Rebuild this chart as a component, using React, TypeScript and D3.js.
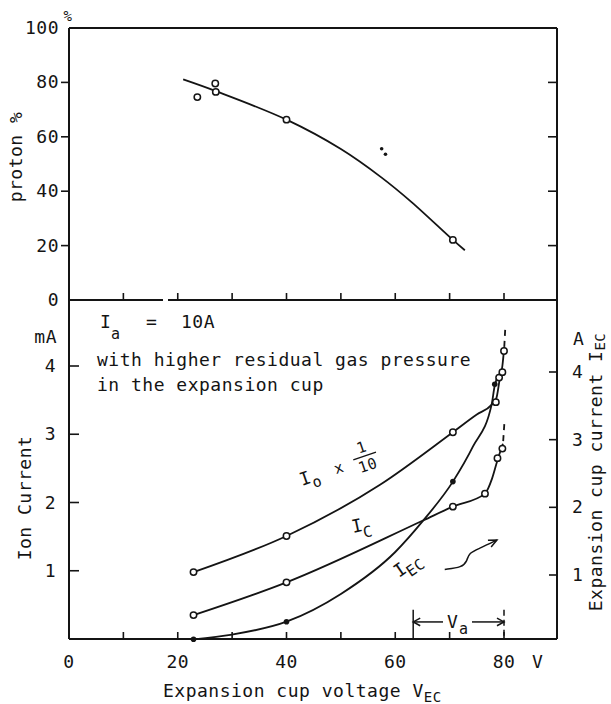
import React from 'react'
import * as d3 from 'd3'

const W = 611
const H = 704
const FONT = '"DejaVu Sans Mono", "Liberation Mono", monospace'
const INK = '#141414'

// axis ticks
const voltTicks = [10, 20, 30, 40, 50, 60, 70, 80]
const voltLabels = [0, 20, 40, 60, 80]
const protonTicks = [20, 40, 60, 80]
const protonLabels = [0, 20, 40, 60, 80, 100]
const ionTicks = [1, 2, 3, 4]
const ecTicks = [1, 2, 3, 4]

// top panel: proton % vs V_EC
const protonCurve = [[21, 81.1], [27, 76.8], [40, 66.3], [50, 55.5], [57.5, 45], [63, 36], [70.6, 22.1], [72.8, 18.3]]
const protonOpen = [[23.6, 74.6], [26.9, 79.6], [27.0, 76.5], [40, 66.3], [70.6, 22.1]]
const protonDots = [[57.5, 55.6], [58.2, 53.6]]

// bottom panel: I_o x 1/10 (mA)
const ioCurve = [[22.9, 0.98], [40, 1.51], [57.2, 2.26], [70.6, 3.03], [75, 3.29], [77.7, 3.43], [78.6, 3.53], [79.2, 3.8], [79.7, 4.0], [80.05, 4.28]]
const ioDash = [[80.05, 4.28], [80.25, 4.58]]
const ioPts = [[22.9, 0.98], [40, 1.51], [70.6, 3.03], [78.5, 3.47], [79.1, 3.83], [79.7, 3.91], [80.0, 4.22]]

// I_C (mA)
const icCurve = [[22.9, 0.35], [40, 0.83], [65.2, 1.74], [70.6, 1.94], [76.5, 2.13], [77.8, 2.35], [78.8, 2.62], [79.8, 2.86]]
const icDash = [[79.85, 2.9], [80.1, 3.2]]
const icPts = [[22.9, 0.35], [40, 0.83], [70.6, 1.94], [76.5, 2.13], [78.8, 2.65], [79.7, 2.79]]

// I_EC (A, right axis)
const iecCurve = [[22.9, 0.05], [30, 0.12], [40, 0.31], [50, 0.72], [60, 1.34], [65.2, 1.81], [70.6, 2.38], [74.3, 2.9], [77.7, 3.51], [78.3, 3.8], [79.1, 3.97]]
const iecPts = [[22.9, 0.05], [40, 0.31], [70.6, 2.38], [78.3, 3.82]]

// annotation arrow next to I_EC label (V, mA)
const iecArrow = [[69.1, 1.02], [72.3, 1.05], [73.2, 1.14], [73.5, 1.26], [75.6, 1.33], [78.7, 1.45]]
// V_a span (V) and its height (mA)
const vaSpan = [63.3, 80]
const vaLevel = 0.25
const vaTop = 0.43

function head(tx: number, ty: number, fx: number, fy: number, len = 9, ang = 0.42) {
  const a = Math.atan2(ty - fy, tx - fx)
  return `M${tx - len * Math.cos(a - ang)},${ty - len * Math.sin(a - ang)}L${tx},${ty}L${tx - len * Math.cos(a + ang)},${ty - len * Math.sin(a + ang)}`
}

export default function App() {
  const x = d3.scaleLinear().domain([0, 80]).range([69, 504])
  const yP = d3.scaleLinear().domain([0, 100]).range([300, 28])
  const yI = d3.scaleLinear().domain([0, 4]).range([639, 366])
  const yA = d3.scaleLinear().domain([1, 4]).range([575, 372])

  const L = x(0)
  const R = 557
  const T = yP(100)
  const M = yP(0)
  const B = yI(0)

  const smooth = d3.curveMonotoneX
  const lineP = d3.line<number[]>().x(d => x(d[0])).y(d => yP(d[1])).curve(d3.curveCatmullRom.alpha(0.5))
  const lineI = d3.line<number[]>().x(d => x(d[0])).y(d => yI(d[1])).curve(smooth)
  const lineA = d3.line<number[]>().x(d => x(d[0])).y(d => yA(d[1])).curve(smooth)
  const straightI = d3.line<number[]>().x(d => x(d[0])).y(d => yI(d[1]))

  const txt = { fontFamily: FONT, fontSize: 18, fill: INK, letterSpacing: 0.5 } as const
  const sub = { fontSize: 14 }

  const open = (pts: number[][], fy: (v: number) => number, key: string) =>
    pts.map((d, i) => (
      <circle key={key + i} cx={x(d[0])} cy={fy(d[1])} r={3.2} fill="#fff" stroke={INK} strokeWidth={1.5} />
    ))

  const aEnd = iecArrow[iecArrow.length - 1]
  const aPrev = iecArrow[iecArrow.length - 2]
  const vaY = yI(vaLevel)

  return (
    <svg width={W} height={H} style={{ position: 'absolute', left: 0, top: 0, background: '#fff' }}>
      {/* frame */}
      <g stroke={INK} strokeWidth={2} fill="none">
        <line x1={L} y1={T} x2={R} y2={T} />
        <line x1={L} y1={T} x2={L} y2={B} />
        <line x1={R} y1={T} x2={R} y2={B} />
        <line x1={L} y1={B} x2={R} y2={B} />
        <line x1={L} y1={M} x2={163} y2={M} />
        <line x1={168} y1={M} x2={R} y2={M} />
      </g>

      {/* ticks */}
      <g stroke={INK} strokeWidth={1.6}>
        {voltTicks.map(v => (
          <g key={'vt' + v}>
            <line x1={x(v)} x2={x(v)} y1={M} y2={M - 7} />
            <line x1={x(v)} x2={x(v)} y1={B} y2={B - 7} />
          </g>
        ))}
        {protonTicks.map(v => (
          <g key={'pt' + v}>
            <line x1={L - 8} x2={L} y1={yP(v)} y2={yP(v)} />
            <line x1={R - 9} x2={R} y1={yP(v)} y2={yP(v)} />
          </g>
        ))}
        {ionTicks.map(v => (
          <line key={'it' + v} x1={L} x2={L + 10} y1={yI(v)} y2={yI(v)} />
        ))}
        {ecTicks.map(v => (
          <line key={'et' + v} x1={R - 8} x2={R} y1={yA(v)} y2={yA(v)} />
        ))}
      </g>

      {/* tick labels */}
      <g {...txt}>
        {protonLabels.map(v => (
          <text key={'pl' + v} x={59} y={yP(v) + 6} textAnchor="end">{v}</text>
        ))}
        <text x={68} y={21} textAnchor="middle" fontSize={14}>%</text>
        {ionTicks.map(v => (
          <text key={'il' + v} x={56} y={yI(v) + 6} textAnchor="end">{v}</text>
        ))}
        <text x={57} y={343} textAnchor="end">mA</text>
        {ecTicks.map(v => (
          <text key={'el' + v} x={572} y={yA(v) + 6}>{v}</text>
        ))}
        <text x={573} y={345}>A</text>
        {voltLabels.map(v => (
          <text key={'xl' + v} x={x(v)} y={668} textAnchor="middle">{v}</text>
        ))}
        <text x={532} y={668}>V</text>
      </g>

      {/* axis titles */}
      <g {...txt}>
        <text transform="translate(22,157) rotate(-90)" textAnchor="middle">proton %</text>
        <text transform="translate(31,498) rotate(-90)" textAnchor="middle">Ion Current</text>
        <text transform="translate(602,472) rotate(-90)" textAnchor="middle">
          Expansion cup current I<tspan {...sub} dy={3}>EC</tspan>
        </text>
        <text x={163} y={697}>
          Expansion cup voltage V<tspan {...sub} dy={5}>EC</tspan>
        </text>
      </g>

      {/* top panel */}
      <path d={lineP(protonCurve) || ''} fill="none" stroke={INK} strokeWidth={1.8} />
      {open(protonOpen, yP, 'po')}
      {protonDots.map((d, i) => (
        <circle key={'pd' + i} cx={x(d[0])} cy={yP(d[1])} r={1.8} fill={INK} />
      ))}

      {/* bottom panel curves */}
      <g fill="none" stroke={INK} strokeWidth={1.8}>
        <path d={lineI(ioCurve) || ''} />
        <path d={lineI(icCurve) || ''} />
        <path d={lineA(iecCurve) || ''} />
        <path d={straightI(ioDash) || ''} strokeDasharray="6 5" />
        <path d={straightI(icDash) || ''} strokeDasharray="6 5" />
      </g>
      {open(ioPts, yI, 'io')}
      {open(icPts, yI, 'ic')}
      {iecPts.map((d, i) => (
        <circle key={'ie' + i} cx={x(d[0])} cy={yA(d[1])} r={2.8} fill={INK} />
      ))}

      {/* annotations */}
      <g {...txt}>
        <text x={100} y={328}>I</text>
        <text x={111} y={339} fontSize={15}>a</text>
        <text x={146} y={328}>=</text>
        <text x={181} y={328}>10A</text>
        <text x={97} y={366}>with higher residual gas pressure</text>
        <text x={97} y={391}>in the expansion cup</text>

        <g transform="translate(302,486) rotate(-19)">
          <text x={0} y={0}>I</text>
          <text x={11} y={6} fontSize={15}>o</text>
          <text x={36} y={0} fontSize={15}>x</text>
          <text x={69} y={-12} fontSize={15} textAnchor="middle">1</text>
          <line x1={57} x2={81} y1={-8} y2={-8} stroke={INK} strokeWidth={1.4} />
          <text x={69} y={7} fontSize={15} textAnchor="middle">10</text>
        </g>
        <g transform="translate(353,533) rotate(-12)">
          <text x={0} y={0}>I</text>
          <text x={10} y={7} fontSize={15}>C</text>
        </g>
        <g transform="translate(399,578) rotate(-35)">
          <text x={0} y={0}>I</text>
          <text x={10} y={6} fontSize={15}>EC</text>
        </g>
      </g>
      <g fill="none" stroke={INK} strokeWidth={1.5}>
        <path d={d3.line<number[]>().x(d => x(d[0])).y(d => yI(d[1])).curve(d3.curveBasis)(iecArrow) || ''} />
        <path d={head(x(aEnd[0]), yI(aEnd[1]), x(aPrev[0]), yI(aPrev[1]))} />

        <line x1={x(vaSpan[0])} x2={x(vaSpan[0])} y1={yI(vaTop)} y2={B} />
        <line x1={x(vaSpan[1])} x2={x(vaSpan[1])} y1={yI(vaTop)} y2={B} strokeDasharray="6 4" />
        <line x1={x(vaSpan[0])} x2={443} y1={vaY} y2={vaY} />
        <path d={head(x(vaSpan[0]), vaY, 443, vaY, 8, 0.5)} />
        <line x1={472} x2={x(vaSpan[1])} y1={vaY} y2={vaY} />
        <path d={head(x(vaSpan[1]), vaY, 472, vaY, 8, 0.5)} />
      </g>
      <g {...txt}>
        <text x={447} y={628}>V</text>
        <text x={459} y={634} fontSize={15}>a</text>
      </g>
    </svg>
  )
}
